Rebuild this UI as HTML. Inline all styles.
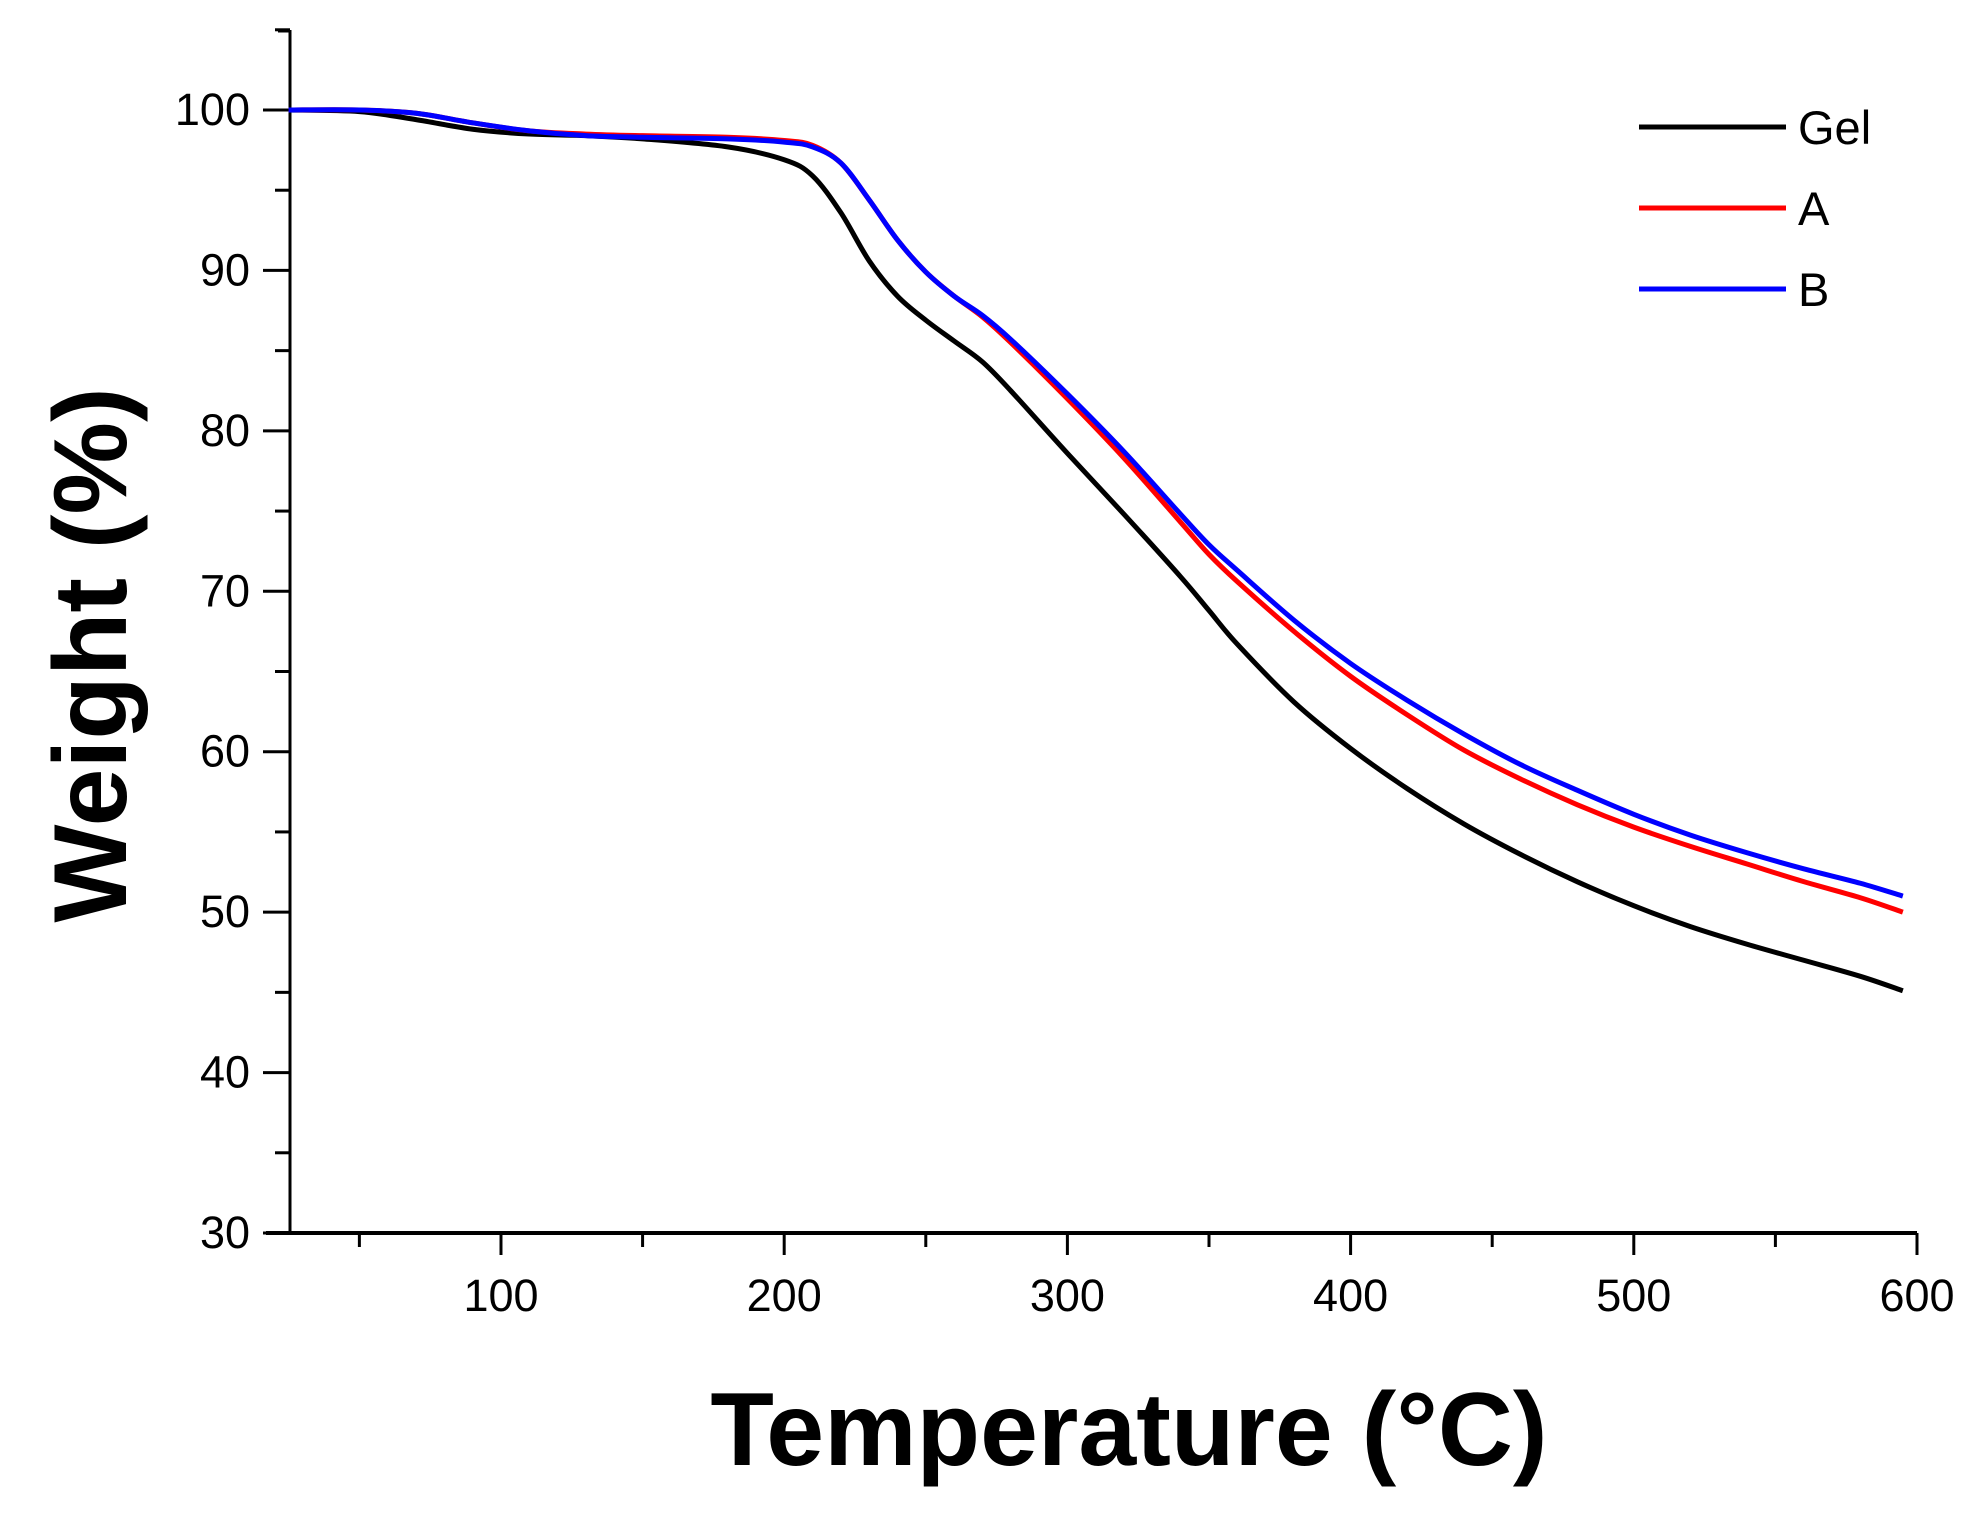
<!DOCTYPE html>
<html><head><meta charset="utf-8"><style>
html,body{margin:0;padding:0;background:#fff;}
svg{display:block;font-family:"Liberation Sans","DejaVu Sans",sans-serif;}
</style></head><body>
<svg id="chart" width="1977" height="1515" viewBox="0 0 1977 1515"></svg>
<script>
const temps = [25,50,70,90,110,130,150,180,200,210,220,230,240,250,260,270,280,300,320,340,350,360,380,400,420,440,460,480,500,520,540,560,580,595];
const gelVals = [100,99.9,99.4,98.8,98.5,98.4,98.2,97.7,96.9,95.9,93.6,90.6,88.4,86.9,85.6,84.3,82.5,78.6,74.8,70.9,68.8,66.7,63.1,60.2,57.7,55.5,53.6,51.9,50.4,49.1,48,47,46,45.1];
const aVals = [100,100,99.8,99.2,98.7,98.5,98.4,98.3,98.1,97.8,96.7,94.4,91.9,89.9,88.4,87.1,85.5,82,78.3,74.3,72.3,70.6,67.5,64.7,62.3,60.1,58.3,56.7,55.3,54.1,53,51.9,50.9,50];
const bVals = [100,100,99.8,99.2,98.7,98.4,98.3,98.2,98,97.7,96.7,94.4,91.9,89.9,88.4,87.2,85.7,82.3,78.7,74.8,72.9,71.3,68.2,65.5,63.2,61.1,59.2,57.6,56.1,54.8,53.7,52.7,51.8,51];
const xTicks = [100,200,300,400,500,600];
const yTicks = [30,40,50,60,70,80,90,100];
const seriesNames = ['Gel','A','B'];
const seriesColors = ['#000000','#ff0000','#0000ff'];

const NS='http://www.w3.org/2000/svg';
const svg=document.getElementById('chart');
const X0=290, X1=1917, TMIN=25.5, TMAX=600;
const Y30=1233, Y100=110;
function xs(t){return X0+(t-TMIN)/(TMAX-TMIN)*(X1-X0);}
function ys(v){return Y30-(v-30)/70*(Y30-Y100);}
function mk(tag,attrs){const e=document.createElementNS(NS,tag);for(const k in attrs)e.setAttribute(k,attrs[k]);svg.appendChild(e);return e;}

let e=mk('line',{x1:X0,y1:30,x2:X0,y2:Y30,stroke:'#000','stroke-width':3});


e=mk('line',{x1:266,y1:Y30,x2:X1,y2:Y30,stroke:'#000','stroke-width':4});


mk('line',{x1:278,y1:31,x2:X0,y2:31,stroke:'#000','stroke-width':3});

for(let v=30;v<=105;v+=5){
  const major=(v%10===0);
  const t=mk('line',{x1:major?263:275,y1:ys(v),x2:X0,y2:ys(v),stroke:'#000','stroke-width':3});
  
  
}
yTicks.forEach(v=>{
  const t=mk('text',{x:250,y:ys(v)+15,'text-anchor':'end','font-size':45,fill:'#000'});
  t.textContent=String(v);
  
  
});
for(let v=50;v<=600;v+=50){
  const major=(v%100===0);
  const t=mk('line',{x1:xs(v),y1:Y30,x2:xs(v),y2:Y30+(major?22:14),stroke:'#000','stroke-width':3});
  
  
}
xTicks.forEach(v=>{
  const t=mk('text',{x:xs(v),y:1311,'text-anchor':'middle','font-size':45,fill:'#000'});
  t.textContent=String(v);
  
  
});
e=mk('text',{x:1129,y:1465,'text-anchor':'middle','font-size':104,'font-weight':'bold',fill:'#000'});
e.textContent='Temperature (°C)';


e=mk('text',{x:0,y:0,'text-anchor':'middle','font-size':104,'font-weight':'bold',fill:'#000',transform:'translate(126,655) rotate(-90)'});
e.textContent='Weight (%)';



function pathFor(vals){
  const p=temps.map((t,i)=>[xs(t),ys(vals[i])]);
  let d='M'+p[0][0]+','+p[0][1];
  for(let i=0;i<p.length-1;i++){
    const p0=p[i-1]||p[i],p1=p[i],p2=p[i+1],p3=p[i+2]||p2;
    const c1=[p1[0]+(p2[0]-p0[0])/6,p1[1]+(p2[1]-p0[1])/6];
    const c2=[p2[0]-(p3[0]-p1[0])/6,p2[1]-(p3[1]-p1[1])/6];
    d+=' C'+c1[0]+','+c1[1]+' '+c2[0]+','+c2[1]+' '+p2[0]+','+p2[1];
  }
  return d;
}
[gelVals,aVals,bVals].forEach((vals,i)=>{
  const l=mk('path',{d:pathFor(vals),fill:'none',stroke:seriesColors[i],'stroke-width':5,'stroke-linejoin':'round'});
  
  
});
const legY=[127,208,289];
seriesNames.forEach((n,i)=>{
  const l=mk('line',{x1:1639,y1:legY[i],x2:1786,y2:legY[i],stroke:seriesColors[i],'stroke-width':5});
  
  
  const t=mk('text',{x:1798,y:legY[i]+17,'font-size':47,fill:'#000'});
  t.textContent=n;
  
  
});
</script>
</body></html>
